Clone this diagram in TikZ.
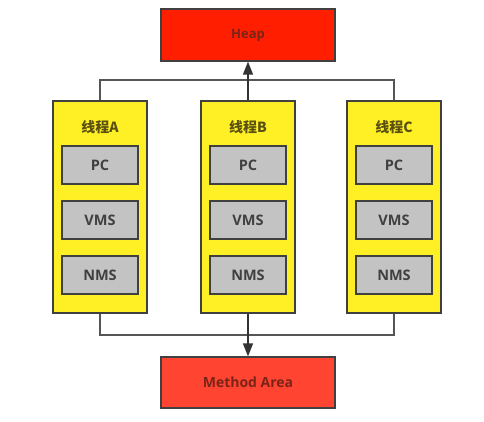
\documentclass[tikz,border=0pt]{standalone}
\usepackage{fontspec}
\setmainfont{Open Sans}
\newfontfamily\cjk{Noto Sans CJK SC}
\usetikzlibrary{arrows.meta}
\definecolor{heapred}{HTML}{FF1E00}
\definecolor{methred}{HTML}{FF4532}
\definecolor{thyellow}{HTML}{FFF026}
\definecolor{boxgray}{HTML}{C3C3C3}
\definecolor{edgegray}{HTML}{404040}
\definecolor{linegray}{HTML}{555555}
\definecolor{redtext}{HTML}{7A2418}
\definecolor{oltext}{HTML}{5A5010}
\tikzset{
  redbox/.style={draw=edgegray, line width=1.2pt, minimum width=174pt, minimum height=52pt, inner sep=0pt, text=redtext},
  thbox/.style={draw=edgegray, fill=thyellow, line width=1.2pt, minimum width=94pt, minimum height=212pt, inner sep=0pt},
  membox/.style={draw=edgegray, fill=boxgray, line width=1.2pt, minimum width=76pt, minimum height=38pt, inner sep=0pt, text=black!75, font=\bfseries\fontsize{14.5}{16}\selectfont},
  thlabel/.style={text=oltext, font=\cjk\bfseries\fontsize{14}{16}\selectfont},
  conn/.style={draw=linegray, line width=1.2pt},
  arr/.style={conn, draw=black!80, -{Triangle[length=13pt,width=10pt]}}
}
\begin{document}
\begin{tikzpicture}[x=1pt,y=-1pt]
\useasboundingbox (0,0) rectangle (484,422);
\fill[white] (0,0) rectangle (484,422);
\node[redbox, fill=heapred, font=\bfseries\fontsize{13}{15}\selectfont] (heap) at (248,35) {Heap};
\node[redbox, fill=methred, minimum height=51pt, font=\bfseries\fontsize{14}{16}\selectfont] (meth) at (248,382.5) {Method Area};
\foreach \n/\x/\l in {A/100/A,B/248/B,C/394/C}{
  \node[thbox] (th\n) at (\x,207) {};
  \node[thlabel] (lab\n) at (\x,127) {线程\l};
  \node[membox] (pc\n) at (\x,165) {PC};
  \node[membox] (vms\n) at (\x,220) {VMS};
  \node[membox] (nms\n) at (\x,275) {NMS};
}
\coordinate (tA) at (100,80);
\coordinate (tC) at (394,80);
\coordinate (bA) at (100,335);
\coordinate (bC) at (394,335);
\draw[conn] (thA.north) -- (tA) -- (tC) -- (thC.north);
\draw[conn] (thA.south) -- (bA) -- (bC) -- (thC.south);
\draw[arr] (thB.north) -- (heap.south);
\draw[arr] (thB.south) -- (meth.north);
\end{tikzpicture}
\end{document}
